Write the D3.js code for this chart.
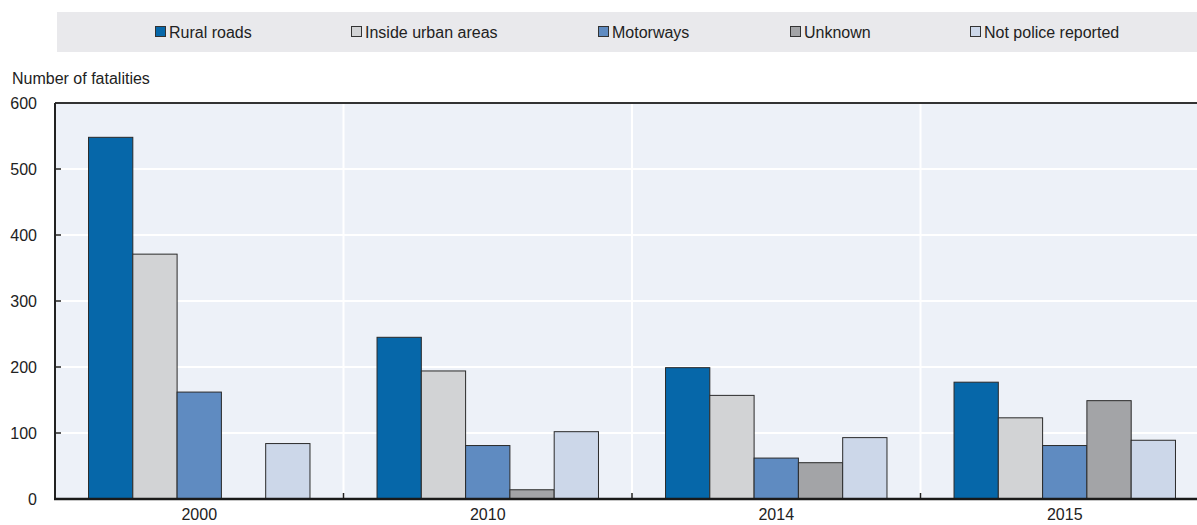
<!DOCTYPE html>
<html>
<head>
<meta charset="utf-8">
<script src="https://cdn.jsdelivr.net/npm/d3@7"></script>
<style>
  html, body { margin: 0; padding: 0; background: #fff; }
  svg { display: block; font-family: "Liberation Sans", Arial, sans-serif; }
</style>
</head>
<body>
<svg id="chart" width="1197" height="525"></svg>
<script>
const years = ["2000", "2010", "2014", "2015"];
const seriesNames = ["Rural roads", "Inside urban areas", "Motorways", "Unknown", "Not police reported"];
const seriesColors = ["#0667a9", "#d2d3d5", "#5f8bc1", "#a3a4a7", "#ccd7e9"];
const ruralRoads = [548, 245, 199, 177];
const insideUrban = [371, 194, 157, 123];
const motorways = [162, 81, 62, 81];
const unknown = [null, 14, 55, 149];
const notPolice = [84, 102, 93, 89];
const yTicks = [0, 100, 200, 300, 400, 500, 600];
const yLabel = "Number of fatalities";

const seriesValues = [ruralRoads, insideUrban, motorways, unknown, notPolice];

const svg = d3.select("#chart");
const plotLeft = 55, plotRight = 1209, plotTop = 103, plotBottom = 499;

const x0 = d3.scaleBand().domain(years).range([plotLeft, plotRight]).paddingInner(0).paddingOuter(0);
const x1 = d3.scaleBand().domain(seriesNames).range([0, x0.bandwidth()]).paddingInner(0).paddingOuter(0.757);
const y = d3.scaleLinear().domain([0, 600]).range([plotBottom, plotTop]);
const color = d3.scaleOrdinal().domain(seriesNames).range(seriesColors);

// Legend
const legend = svg.append("g");
legend.append("rect").attr("x", 57).attr("y", 12).attr("width", 1200).attr("height", 40).attr("fill", "#e9e9ec");
const legendX = [155, 351, 598, 790, 970];
seriesNames.forEach((s, i) => {
  const g = legend.append("g").attr("transform", `translate(${legendX[i]},0)`);
  g.append("rect").attr("x", 0.5).attr("y", 26.5).attr("width", 10).attr("height", 10)
    .attr("fill", color(s)).attr("stroke", "#333").attr("stroke-width", 1);
  g.append("text").attr("x", 14).attr("y", 38).attr("font-size", 16).attr("fill", "#222").text(s);
});

// Y label
svg.append("text").attr("x", 12).attr("y", 84).attr("font-size", 16).attr("fill", "#222").text(yLabel);

// Plot background
svg.append("rect").attr("x", plotLeft).attr("y", plotTop).attr("width", plotRight - plotLeft).attr("height", plotBottom - plotTop)
  .attr("fill", "#edf1f8");

// Horizontal gridlines
svg.append("g").selectAll("line").data(yTicks.filter(d => d > 0 && d < 600)).join("line")
  .attr("x1", plotLeft).attr("x2", plotRight).attr("y1", d => y(d)).attr("y2", d => y(d))
  .attr("stroke", "#fff").attr("stroke-width", 2);

// Vertical separators
const seps = years.slice(1).map(yr => x0(yr));
svg.append("g").selectAll("line").data(seps).join("line")
  .attr("x1", d => d).attr("x2", d => d).attr("y1", plotTop).attr("y2", plotBottom)
  .attr("stroke", "#fff").attr("stroke-width", 2);

// Bars
const groups = svg.append("g").selectAll("g").data(years).join("g")
  .attr("transform", d => `translate(${x0(d)},0)`);
groups.selectAll("rect")
  .data((yr, i) => seriesNames.map((s, j) => ({ s, v: seriesValues[j][i] })).filter(d => d.v != null))
  .join("rect")
  .attr("x", d => x1(d.s)).attr("width", x1.bandwidth())
  .attr("y", d => y(d.v)).attr("height", d => y(0) - y(d.v))
  .attr("fill", d => color(d.s)).attr("stroke", "#2a2a2a").attr("stroke-width", 1);

// Y axis
const yAxis = d3.axisLeft(y).tickValues(yTicks).tickSize(0).tickPadding(18);
const ya = svg.append("g").attr("transform", `translate(${plotLeft},0)`).call(yAxis);
ya.select(".domain").remove();
ya.selectAll("text").attr("font-size", 16).attr("fill", "#222").attr("font-family", "Liberation Sans, Arial, sans-serif");
// inward y ticks
svg.append("g").selectAll("line").data(yTicks.filter(d => d > 0 && d < 600)).join("line")
  .attr("x1", plotLeft).attr("x2", plotLeft + 6).attr("y1", d => y(d)).attr("y2", d => y(d))
  .attr("stroke", "#222").attr("stroke-width", 1.5);

// X axis labels
const xAxis = d3.axisBottom(x0).tickSize(0).tickPadding(10);
const xa = svg.append("g").attr("transform", `translate(0,${plotBottom})`).call(xAxis);
xa.select(".domain").remove();
xa.selectAll("text").attr("font-size", 16).attr("fill", "#222").attr("font-family", "Liberation Sans, Arial, sans-serif");

// separator ticks at bottom
svg.append("g").selectAll("line").data(seps).join("line")
  .attr("x1", d => d).attr("x2", d => d).attr("y1", plotBottom).attr("y2", plotBottom - 6)
  .attr("stroke", "#222").attr("stroke-width", 1.5);

// Frame lines
svg.append("line").attr("x1", plotLeft).attr("x2", plotRight).attr("y1", plotTop).attr("y2", plotTop)
  .attr("stroke", "#333").attr("stroke-width", 2);
svg.append("line").attr("x1", plotLeft).attr("x2", plotLeft).attr("y1", plotTop).attr("y2", plotBottom)
  .attr("stroke", "#222").attr("stroke-width", 2);
svg.append("line").attr("x1", plotLeft - 1).attr("x2", plotRight).attr("y1", plotBottom).attr("y2", plotBottom)
  .attr("stroke", "#1a1a1a").attr("stroke-width", 2.5);
</script>
</body>
</html>
